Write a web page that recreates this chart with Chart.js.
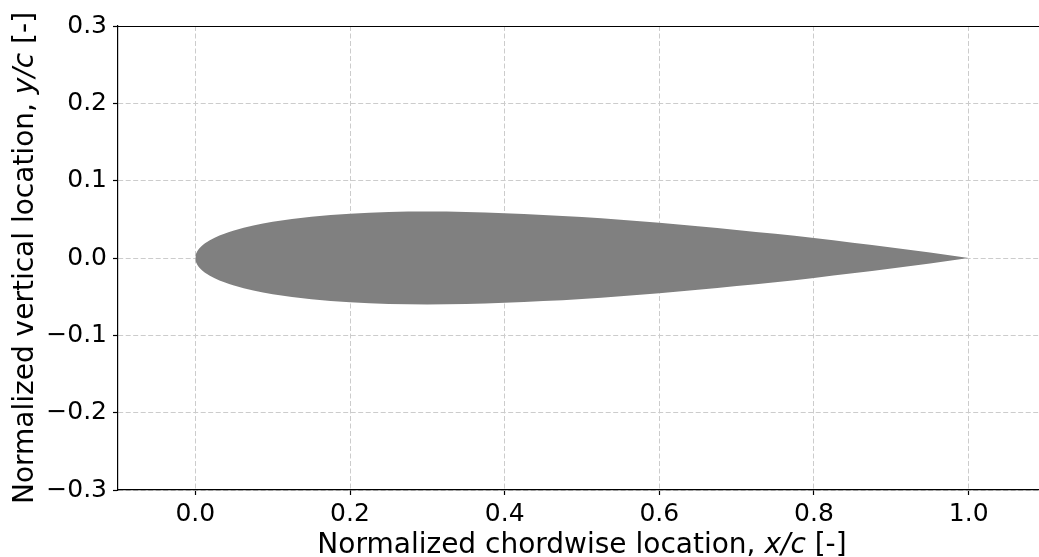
<!DOCTYPE html>
<html>
<head>
<meta charset="utf-8">
<script src="https://cdn.jsdelivr.net/npm/chart.js@4.4.1/dist/chart.umd.min.js"></script>
<style>
  html, body { margin: 0; padding: 0; background: #fff; overflow: hidden; }
  #wrap { position: relative; width: 1046px; height: 557px; }
</style>
</head>
<body>
<div id="wrap"><canvas id="airfoil"></canvas></div>
<script>
// chordwise stations and surface ordinates of the section
const chordX = [0, 0.0005, 0.00125, 0.0025, 0.005, 0.0075, 0.0125, 0.025, 0.05, 0.075, 0.1,
                0.15, 0.2, 0.25, 0.3, 0.35, 0.4, 0.45, 0.5, 0.55, 0.6, 0.65, 0.7, 0.75,
                0.8, 0.85, 0.9, 0.95, 1.0];
const upperY = [0, 0.00395, 0.0062, 0.00872, 0.01221, 0.01485, 0.01894, 0.02615, 0.03555, 0.042, 0.04683,
                0.05345, 0.05737, 0.05941, 0.06001, 0.05947, 0.058, 0.05576, 0.05286, 0.04941, 0.04547, 0.0411, 0.03634, 0.0312,
                0.02572, 0.01987, 0.01365, 0.00704, 0];
const lowerY = [0, -0.00395, -0.0062, -0.00872, -0.01221, -0.01485, -0.01894, -0.02615, -0.03555, -0.042, -0.04683,
                -0.05345, -0.05737, -0.05941, -0.06001, -0.05947, -0.058, -0.05576, -0.05286, -0.04941, -0.04547, -0.0411, -0.03634, -0.0312,
                -0.02572, -0.01987, -0.01365, -0.00704, 0];

const xTicks = [0, 0.2, 0.4, 0.6, 0.8, 1.0];
const yTicks = [-0.3, -0.2, -0.1, 0, 0.1, 0.2, 0.3];

// axis titles, split so the symbol part can be set in italics
const xTitle = [["Normalized chordwise location, ", false], ["x/c", true], [" [-]", false]];
const yTitle = [["Normalized vertical location, ", false], ["y/c", true], [" [-]", false]];

const FONT = '"DejaVu Sans", "Liberation Sans", sans-serif';

function fmtTick(v) {
    const s = Math.abs(v).toFixed(1);
    return v < -1e-9 ? "\u2212" + s : s;
}

function drawTitle(ctx, parts, cx, baseY) {
    const size = 28;
    let total = 0;
    const widths = parts.map(([text, italic]) => {
        ctx.font = (italic ? "italic " : "") + size + "px " + FONT;
        const w = ctx.measureText(text).width;
        total += w;
        return w;
    });
    let x = cx - total / 2;
    ctx.textAlign = "left";
    ctx.textBaseline = "alphabetic";
    ctx.fillStyle = "#000";
    parts.forEach(([text, italic], i) => {
        ctx.font = (italic ? "italic " : "") + size + "px " + FONT;
        ctx.fillText(text, x, baseY);
        x += widths[i];
    });
}

const frame = {
    id: "frame",
    afterDraw(chart) {
        const ctx = chart.ctx;
        const a = chart.chartArea;
        ctx.save();
        // top spine
        const ty = Math.round(a.top) + 0.5;
        ctx.strokeStyle = "#000";
        ctx.lineWidth = 1.2;
        ctx.beginPath();
        ctx.moveTo(a.left, ty);
        ctx.lineTo(a.right, ty);
        ctx.stroke();
        // axis titles
        drawTitle(ctx, xTitle, (a.left + a.right) / 2, 553);
        ctx.translate(33, (a.top + a.bottom) / 2);
        ctx.rotate(-Math.PI / 2);
        drawTitle(ctx, yTitle, 0, 0);
        ctx.restore();
    }
};

const tickFont = { family: FONT, size: 25 };

new Chart(document.getElementById("airfoil"), {
    type: "line",
    data: {
        datasets: [{
            label: "upper",
            data: chordX.map((x, i) => ({ x, y: upperY[i] })),
            borderColor: "rgba(0,0,0,0)",
            borderWidth: 0,
            backgroundColor: "#808080",
            pointRadius: 0,
            cubicInterpolationMode: "monotone",
            fill: "+1"
        }, {
            label: "lower",
            data: chordX.map((x, i) => ({ x, y: lowerY[i] })),
            borderColor: "rgba(0,0,0,0)",
            borderWidth: 0,
            pointRadius: 0,
            cubicInterpolationMode: "monotone",
            fill: false
        }]
    },
    options: {
        responsive: true,
        maintainAspectRatio: false,
        animation: false,
        layout: { padding: { top: 26, right: 0, left: 0, bottom: 0 } },
        plugins: {
            legend: { display: false },
            tooltip: { enabled: false }
        },
        scales: {
            x: {
                type: "linear",
                min: -0.1,
                max: 1.1,
                afterBuildTicks(scale) { scale.ticks = xTicks.map(v => ({ value: v })); },
                afterFit(scale) { scale.height = 67; },
                ticks: {
                    color: "#000",
                    font: tickFont,
                    padding: 4,
                    maxRotation: 0,
                    callback: v => fmtTick(v)
                },
                grid: {
                    color: "#cccccc",
                    lineWidth: 1,
                    tickColor: "#000",
                    tickLength: 5,
                    tickWidth: 1.2
                },
                border: { color: "#000", width: 1.2, dash: [5, 2.5] }
            },
            y: {
                type: "linear",
                min: -0.3,
                max: 0.3,
                afterBuildTicks(scale) { scale.ticks = yTicks.map(v => ({ value: v })); },
                afterFit(scale) { scale.width = 118; },
                ticks: {
                    color: "#000",
                    font: tickFont,
                    padding: 6,
                    callback: v => fmtTick(v)
                },
                grid: {
                    color: "#cccccc",
                    lineWidth: 1,
                    tickColor: "#000",
                    tickLength: 5,
                    tickWidth: 1.2
                },
                border: { color: "#000", width: 1.2, dash: [5, 2.5] }
            }
        }
    },
    plugins: [frame]
});
</script>
</body>
</html>
